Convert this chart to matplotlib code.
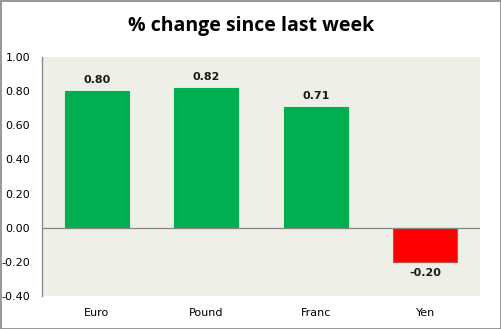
import matplotlib
matplotlib.use("Agg")
import matplotlib.pyplot as plt
from matplotlib.patches import Rectangle

currencies = ["Euro", "Pound", "Franc", "Yen"]
changes = [0.80, 0.82, 0.71, -0.20]
y_ticks = [-0.40, -0.20, 0.00, 0.20, 0.40, 0.60, 0.80, 1.00]

W, H = 502, 329
fig = plt.figure(figsize=(W / 100, H / 100), dpi=100)
fig.patch.set_facecolor("white")

# plot area in pixel coordinates
left, right, top, bottom = 42, 480, 57, 296
ax = fig.add_axes([left / W, 1 - bottom / H, (right - left) / W, (bottom - top) / H])
ax.set_facecolor("#EEEFE7")

colors = ["#00B050" if v >= 0 else "#FF0000" for v in changes]
edges = ["#00B050" if v >= 0 else "#C0504D" for v in changes]
x = list(range(len(currencies)))
ax.bar(x, changes, width=0.585, color=colors, edgecolor=edges, linewidth=0.8, zorder=2)

for xi, v in zip(x, changes):
    off = 0.035 if v >= 0 else -0.035
    ax.text(xi, v + off, f"{v:.2f}", ha="center", va="bottom" if v >= 0 else "top",
            fontsize=8, fontweight="bold", family="DejaVu Sans", color="#1a1a1a")

ax.set_xlim(-0.5, len(currencies) - 0.5)
ax.set_ylim(-0.40, 1.00)
ax.set_yticks(y_ticks)
ax.set_yticklabels([f"{t:.2f}" for t in y_ticks], fontsize=8, family="DejaVu Sans")
ax.set_xticks(x)
ax.set_xticklabels(currencies, fontsize=8, family="DejaVu Sans")
ax.tick_params(axis="y", length=0, pad=8.5)
ax.tick_params(axis="x", length=0, pad=9)

for s in ["top", "right", "bottom"]:
    ax.spines[s].set_visible(False)
ax.spines["left"].set_color("#868686")
ax.spines["left"].set_linewidth(0.9)
ax.axhline(0, color="#868686", linewidth=0.9, zorder=3)

fig.text(0.5, 1 - 26 / H, "% change since last week", ha="center", va="center",
         fontsize=14, fontweight="bold", family="Open Sans")

# outer chart border
fig.add_artist(Rectangle((0.5 / W, 0.5 / H), 1 - 1.5 / W, 1 - 1.5 / H, transform=fig.transFigure,
                         fill=False, edgecolor="#868686", linewidth=1.2))

fig.savefig("out.png", dpi=100, facecolor="white")
